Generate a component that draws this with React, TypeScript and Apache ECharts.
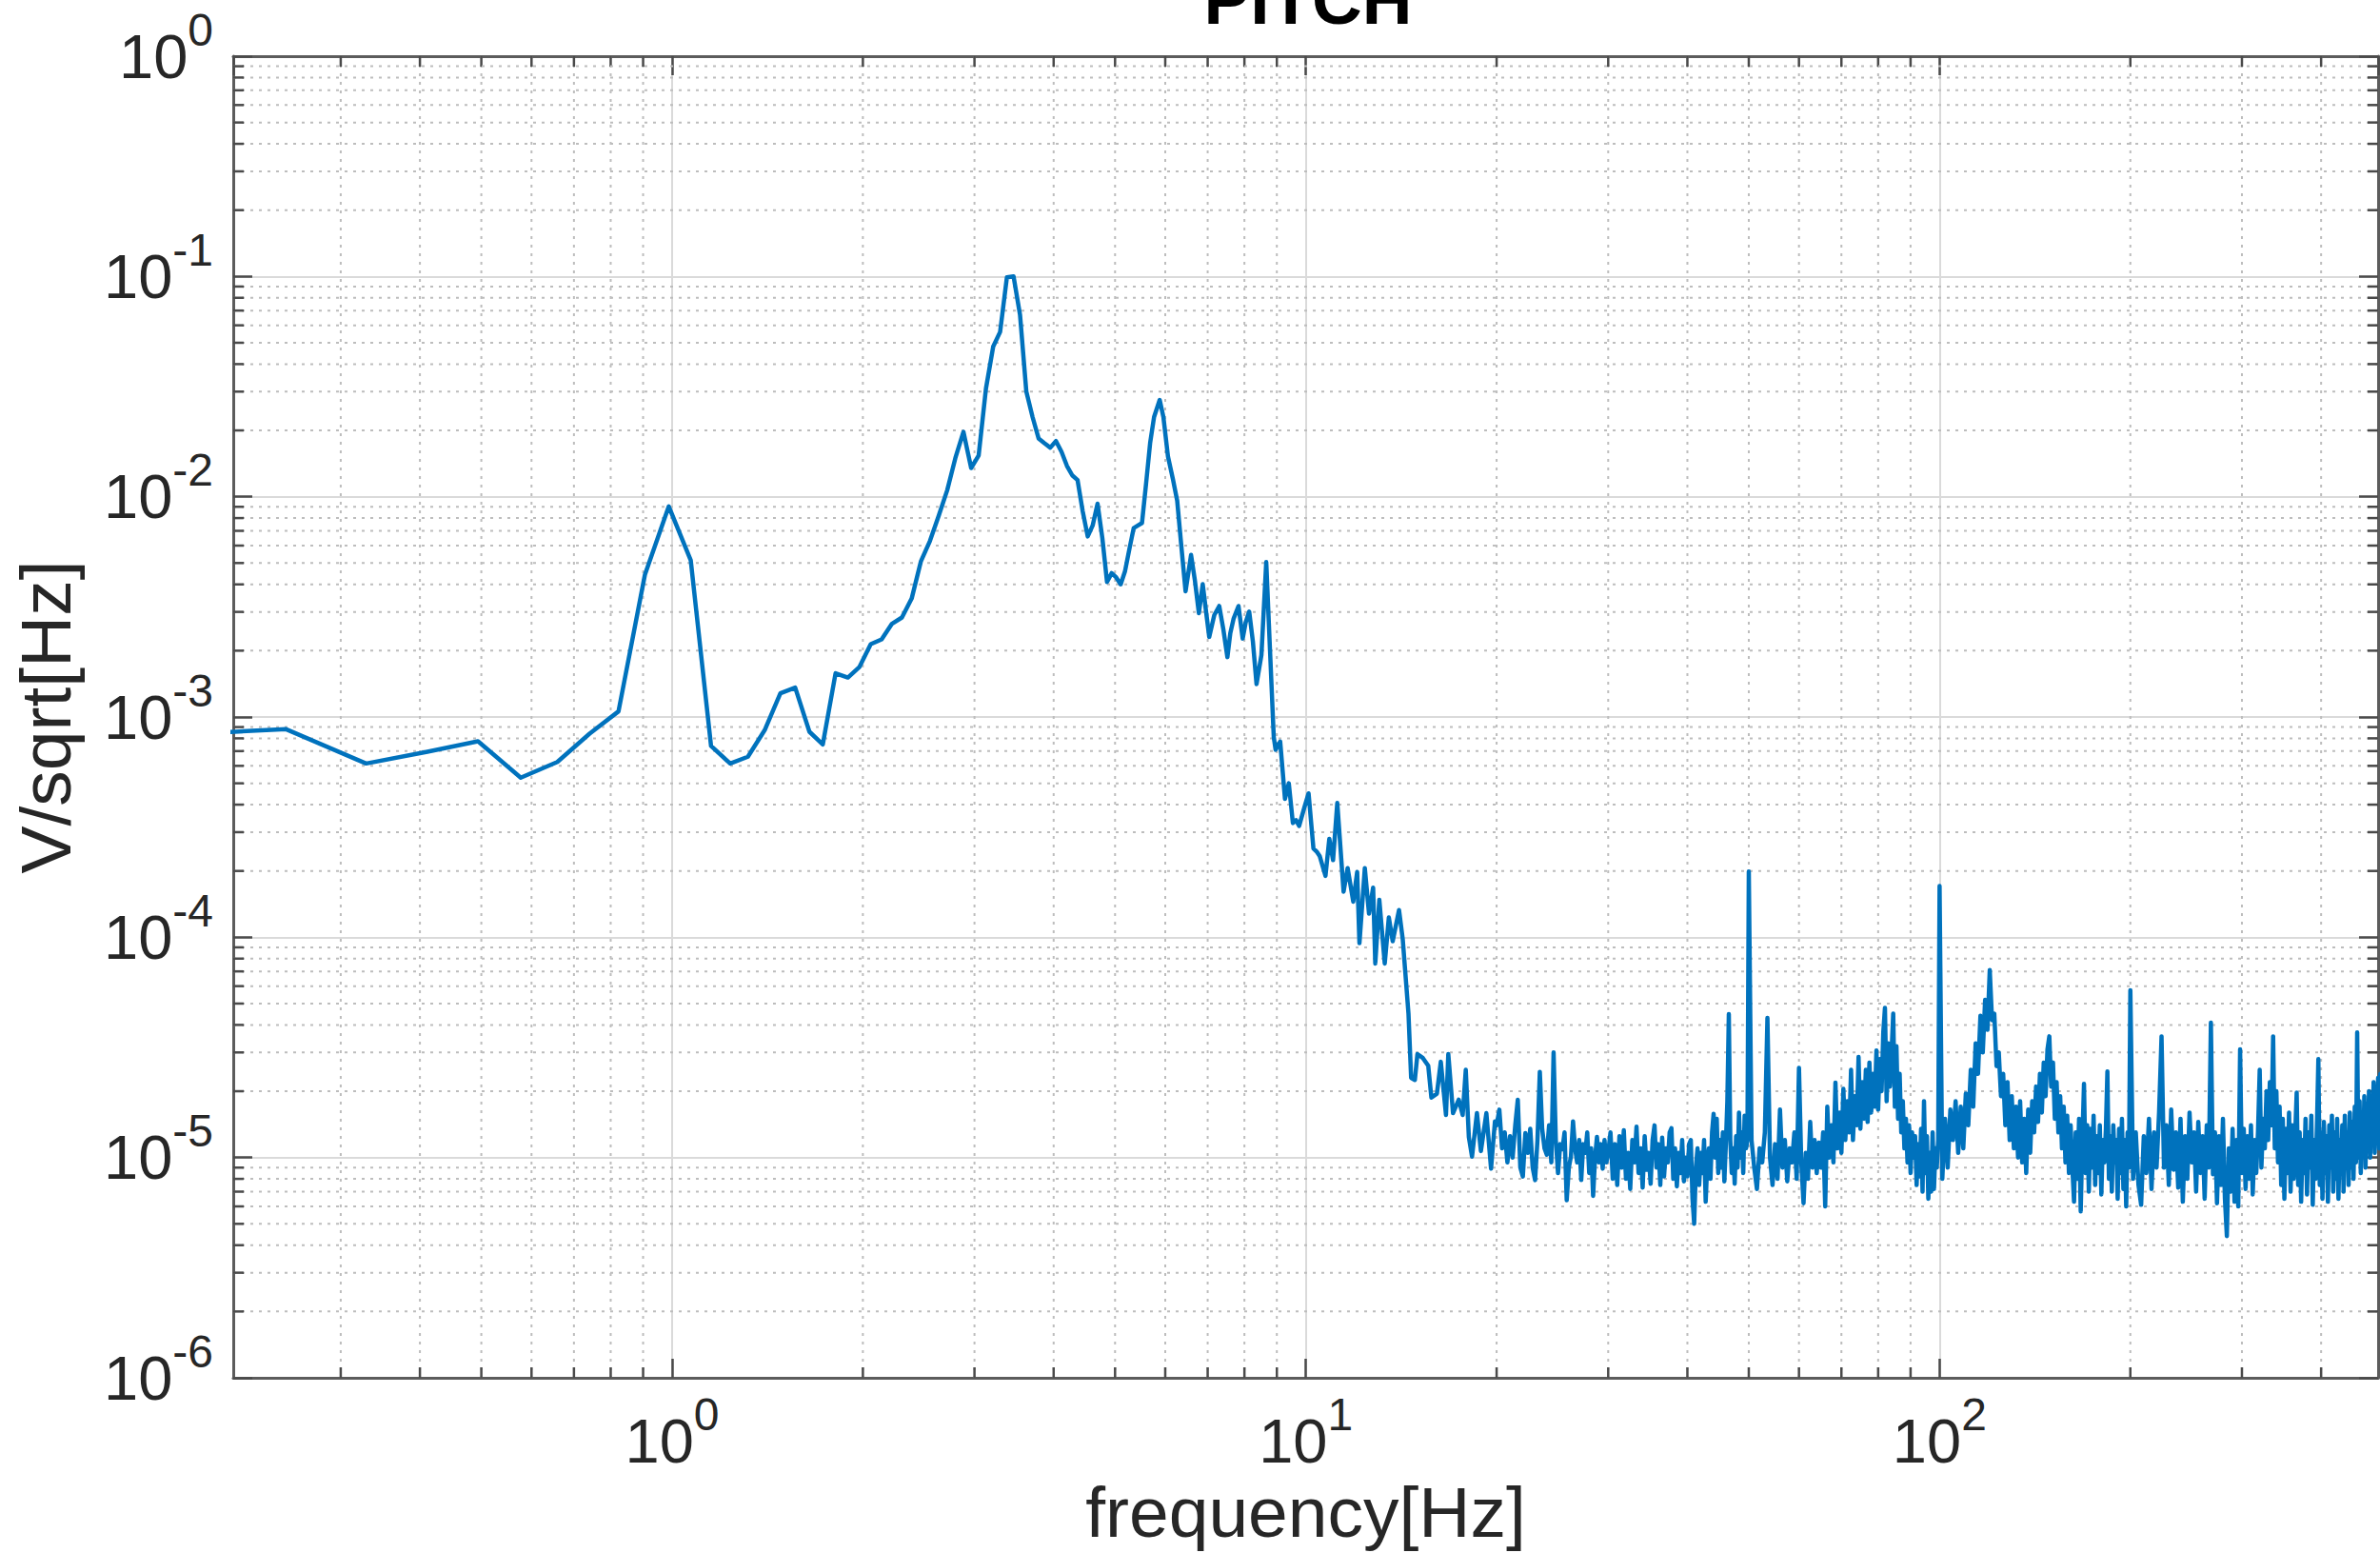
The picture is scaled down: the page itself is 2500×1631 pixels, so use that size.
import React, { useEffect, useRef } from "react";
import * as echarts from "echarts";

// ---------- texts & axis ranges ----------
const TITLE = "PITCH";
const X_NAME = "frequency[Hz]";
const Y_NAME = "V/sqrt[Hz]";
const X_MIN = 0.203;
const X_MAX = 492;
const Y_MIN = 1e-6;
const Y_MAX = 1;
const MINOR_MANTISSAS = [2, 3, 4, 5, 6, 7, 8, 9];
const X_DECADES = [0.1, 1, 10, 100];
const Y_DECADES = [1e-6, 1e-5, 1e-4, 1e-3, 1e-2, 1e-1];

// ---------- data: [frequency Hz, V/sqrt(Hz)] ----------
const psd0to3: [number, number][] = [
  [0.2, 8.55e-4], [0.246, 8.8e-4], [0.329, 6.15e-4], [0.411, 6.95e-4], [0.494, 7.76e-4],
  [0.577, 5.3e-4], [0.659, 6.25e-4], [0.741, 8.4e-4], [0.823, 1.06e-3], [0.906, 4.43e-3],
  [0.988, 9.04e-3], [1.07, 5.15e-3], [1.152, 7.39e-4], [1.235, 6.15e-4], [1.317, 6.6e-4],
  [1.4, 8.72e-4], [1.482, 1.28e-3], [1.564, 1.36e-3], [1.647, 8.57e-4], [1.729, 7.51e-4],
  [1.811, 1.58e-3], [1.894, 1.51e-3], [1.976, 1.69e-3], [2.058, 2.14e-3], [2.141, 2.25e-3],
  [2.223, 2.65e-3], [2.305, 2.83e-3], [2.388, 3.45e-3], [2.47, 5.1e-3], [2.552, 6.3e-3],
  [2.635, 8.2e-3], [2.717, 1.07e-2], [2.799, 1.5e-2], [2.882, 1.97e-2], [2.964, 1.35e-2],
];

const psd3to9: [number, number][] = [
  [3.046, 1.54e-2], [3.128, 3.1e-2], [3.211, 4.8e-2], [3.293, 5.6e-2], [3.375, 9.9e-2],
  [3.458, 1.0e-1], [3.54, 6.7e-2], [3.622, 3.0e-2], [3.705, 2.3e-2], [3.787, 1.84e-2],
  [3.869, 1.75e-2], [3.951, 1.67e-2], [4.034, 1.79e-2], [4.116, 1.6e-2], [4.198, 1.38e-2],
  [4.28, 1.25e-2], [4.363, 1.19e-2], [4.445, 8.6e-3], [4.527, 6.6e-3], [4.609, 7.4e-3],
  [4.692, 9.3e-3], [4.774, 6.5e-3], [4.856, 4.1e-3], [4.939, 4.5e-3], [5.021, 4.3e-3],
  [5.103, 4.0e-3], [5.185, 4.6e-3], [5.268, 5.8e-3], [5.35, 7.2e-3], [5.432, 7.4e-3],
  [5.514, 7.6e-3], [5.597, 1.15e-2], [5.679, 1.75e-2], [5.761, 2.3e-2], [5.88, 2.75e-2],
  [5.96, 2.3e-2], [6.06, 1.52e-2], [6.17, 1.2e-2], [6.266, 9.6e-3], [6.36, 6.0e-3],
  [6.46, 3.72e-3], [6.59, 5.44e-3], [6.68, 4.2e-3], [6.78, 2.96e-3], [6.875, 4.01e-3],
  [6.96, 3.0e-3], [7.04, 2.31e-3], [7.17, 2.9e-3], [7.3, 3.19e-3], [7.41, 2.5e-3],
  [7.52, 1.87e-3], [7.6, 2.4e-3], [7.69, 2.79e-3], [7.83, 3.19e-3], [7.95, 2.27e-3],
  [8.04, 2.7e-3], [8.14, 3.01e-3], [8.25, 2.2e-3], [8.36, 1.41e-3], [8.51, 1.91e-3],
  [8.66, 5.05e-3], [8.78, 2.0e-3], [8.9, 8.1e-4], [8.96, 7.1e-4],
];

const psd9to20: [number, number][] = [
  [9.11, 7.74e-4], [9.27, 4.25e-4], [9.4, 5.0e-4], [9.54, 3.3e-4], [9.65, 3.4e-4],
  [9.76, 3.2e-4], [9.95, 3.9e-4], [10.1, 4.5e-4], [10.28, 2.53e-4], [10.4, 2.45e-4],
  [10.52, 2.33e-4], [10.74, 1.9e-4], [10.89, 2.8e-4], [11.04, 2.24e-4], [11.21, 4.07e-4],
  [11.47, 1.61e-4], [11.64, 2.06e-4], [11.88, 1.45e-4], [12.05, 1.98e-4], [12.15, 9.4e-5],
  [12.39, 2.06e-4], [12.58, 1.28e-4], [12.77, 1.68e-4], [12.87, 7.6e-5], [13.06, 1.48e-4],
  [13.32, 7.6e-5], [13.52, 1.23e-4], [13.71, 9.6e-5], [14.03, 1.33e-4], [14.22, 9.8e-5],
  [14.52, 4.5e-5], [14.66, 2.3e-5], [14.86, 2.25e-5], [15.0, 2.95e-5], [15.3, 2.83e-5],
  [15.6, 2.61e-5], [15.78, 1.87e-5], [16.1, 1.95e-5], [16.33, 2.72e-5], [16.64, 1.56e-5],
  [16.78, 2.95e-5], [17.07, 1.59e-5], [17.43, 1.83e-5], [17.68, 1.56e-5], [17.88, 2.5e-5],
  [18.08, 1.24e-5], [18.29, 1.01e-5], [18.62, 1.59e-5], [18.89, 1.07e-5], [19.27, 1.59e-5],
  [19.6, 8.9e-6], [19.88, 1.46e-5],
];

// noise floor, values in µV/sqrt(Hz): [frequency Hz, µV/sqrt(Hz)]
const noise20to30uV: [number, number][] = [
  [20.0, 14], [20.2, 16.5], [20.4, 11], [20.6, 13], [20.8, 9.5], [21.0, 12.5], [21.2, 10], [21.4, 14],
  [21.6, 18.3], [21.8, 9], [22.0, 8.2], [22.2, 12.9], [22.4, 10.5], [22.6, 13.5], [22.8, 9], [23.0, 7.9],
  [23.2, 12], [23.4, 24.5], [23.6, 13.5], [23.8, 11], [24.0, 10.3], [24.2, 14], [24.4, 9.5], [24.6, 30],
  [24.8, 12], [25.0, 8.5], [25.2, 11.5], [25.4, 10.9], [25.6, 13], [25.8, 6.4], [26.0, 9], [26.2, 10.1],
  [26.4, 14.6], [26.6, 11], [26.8, 9.5], [27.0, 12], [27.2, 7.9], [27.4, 11.5], [27.6, 10.5], [27.8, 13],
  [28.0, 8.5], [28.2, 11], [28.4, 6.7], [28.6, 10], [28.8, 12.4], [29.0, 9.5], [29.2, 11.5], [29.4, 8.9],
  [29.6, 12], [29.8, 9.5], [30.0, 10.5],
];

const noise30to50uV: [number, number][] = [
  [30.25, 13], [30.5, 8], [30.75, 11.5], [31, 7.5], [31.25, 12.5], [31.5, 9], [31.75, 13.3], [32, 8],
  [32.25, 10.5], [32.5, 7.2], [32.75, 12], [33, 9.5], [33.25, 13.8], [33.5, 8.5], [33.75, 11], [34, 7.3],
  [34.25, 12.5], [34.5, 8.8], [34.75, 10.5], [35, 7.6], [35.25, 12], [35.5, 14], [35.75, 9], [36, 11.5],
  [36.25, 7.5], [36.5, 12.3], [36.75, 8.2], [37, 11], [37.25, 9.5], [37.5, 13], [37.75, 13.6], [38, 8],
  [38.25, 11], [38.5, 7.4], [38.75, 10.5], [39, 8.5], [39.25, 12], [39.5, 7.8], [39.75, 10], [40, 8.2],
  [40.25, 11.5], [40.5, 12], [40.75, 6.5], [41, 5], [41.25, 9], [41.5, 11], [41.75, 7.5], [42, 10.5],
  [42.25, 8.5], [42.5, 12], [42.75, 6.3], [43, 9.5], [43.25, 11], [43.5, 8], [43.75, 13], [44, 15.8],
  [44.25, 10], [44.5, 15], [44.75, 8.5], [45, 12], [45.25, 9], [45.5, 13], [45.75, 7.8], [46, 11.5],
  [46.25, 18], [46.5, 44.8], [46.75, 12], [47, 8.5], [47.25, 11], [47.5, 7.6], [47.75, 12.5], [48, 9],
  [48.25, 16], [48.5, 10], [48.75, 13], [49, 8.5], [49.25, 15.5], [49.5, 11], [49.75, 12], [50, 199],
];

const noise50to100uV: [number, number][] = [
  [50.5, 12], [51, 9], [51.5, 7.2], [52, 11], [52.5, 9.5], [53, 13], [53.5, 43], [54, 10],
  [54.5, 7.5], [55, 11.5], [55.5, 8], [56, 16.5], [56.5, 9], [57, 12], [57.5, 7.8], [58, 11],
  [58.5, 9.5], [59, 13], [59.5, 8], [60, 25.5], [60.5, 9.5], [61, 6.2], [61.5, 10.5], [62, 8],
  [62.5, 14.5], [63, 9], [63.5, 12], [64, 8.5], [64.5, 11.7], [65, 9], [65.5, 13], [66, 6],
  [66.5, 17], [67, 10], [67.5, 14], [68, 9.5], [68.5, 21.9], [69, 11], [69.5, 16], [70, 10.5],
  [70.5, 20.5], [71, 12], [71.5, 18], [72, 13], [72.5, 25], [73, 12], [73.5, 19], [74, 14],
  [74.5, 28.6], [75, 13.5], [75.5, 22], [76, 15], [76.5, 25], [77, 14.5], [77.5, 27], [78, 16],
  [78.5, 24], [79, 17], [79.5, 30.6], [80, 16.5], [80.5, 28], [81, 20], [81.5, 37], [82, 47.8],
  [82.5, 18], [83, 33], [83.5, 21], [84, 30], [84.5, 45], [85, 17], [85.5, 32], [86, 15],
  [86.5, 24], [87, 13], [87.5, 18], [88, 11], [88.5, 15], [89, 9.5], [89.5, 14], [90, 8.5],
  [90.5, 13], [91, 10], [91.5, 12.5], [92, 7.5], [92.5, 11.5], [93, 8.2], [93.5, 13.5], [94, 7],
  [94.5, 18], [95, 8.5], [95.5, 12.5], [96, 6.5], [96.5, 10.5], [97, 7], [97.5, 13], [98, 7.2],
  [98.5, 11], [99, 9], [99.5, 12], [100, 171],
];

const noise100to200uV: [number, number][] = [
  [101, 8], [102, 15], [103, 9], [104, 16.5], [105, 12], [106, 18], [107, 10.5], [108, 17],
  [109, 11], [110, 19.5], [111, 14], [112, 25], [113, 17], [114, 33], [115, 24], [116, 44],
  [117, 30], [118, 52], [119, 38], [120, 71], [121, 42], [122, 45], [123, 26], [124, 30],
  [125, 19], [126, 24], [127, 14], [128, 22], [129, 12], [130, 19], [131, 11], [132, 17],
  [133, 10], [134, 18], [135, 9.5], [136, 15], [137, 8.5], [138, 16.5], [139, 10.5], [140, 18],
  [141, 13], [142, 21], [143, 14.5], [144, 24], [145, 16], [146, 27], [147, 19], [148, 31],
  [149, 35.5], [150, 21], [151, 27], [152, 15], [153, 22], [154, 13], [155, 19], [156, 11],
  [157, 17], [158, 9.5], [159, 15.5], [160, 8.5], [161, 14], [162, 9], [163, 6.3], [164, 13],
  [165, 8], [166, 15], [167, 5.7], [168, 12], [169, 21.6], [170, 8.5], [171, 14], [172, 7],
  [173, 13.5], [174, 9], [175, 15.5], [176, 7.5], [177, 12.5], [178, 8.5], [179, 14], [180, 6.8],
  [181, 12], [182, 9.5], [183, 13.5], [184, 24.6], [185, 8], [186, 12.5], [187, 7], [188, 14],
  [189, 9.5], [190, 12], [191, 6.5], [192, 13.5], [193, 8.5], [194, 15], [195, 7.2], [196, 12],
  [197, 6.0], [198, 13], [199, 9], [200, 57.4],
];

const noise200to500uV: [number, number][] = [
  [202, 8], [204, 13], [206, 7.5], [208, 6.1], [210, 12.5], [212, 8.5], [214, 15], [216, 7.2],
  [218, 13], [220, 9], [222, 16], [224, 35.5], [226, 9], [228, 14], [230, 7.5], [232, 16.5],
  [234, 8.8], [236, 13], [238, 7.3], [240, 15], [242, 6.3], [244, 12.5], [246, 8], [248, 16],
  [250, 9.5], [252, 13], [254, 7], [256, 14.5], [258, 8.5], [260, 12.5], [262, 6.5], [264, 14],
  [266, 9], [268, 41], [270, 8.4], [272, 13], [274, 6.2], [276, 12.5], [278, 7.5], [280, 15],
  [282, 6.5], [284, 4.4], [286, 11], [288, 7], [290, 13.5], [292, 6.3], [294, 12], [296, 6],
  [298, 31], [300, 8.5], [302, 13.5], [304, 7.2], [306, 12.5], [308, 8], [310, 14], [312, 6.8],
  [314, 12], [316, 8.5], [318, 13], [320, 25], [322, 9], [324, 15], [326, 11], [328, 20],
  [330, 12], [332, 22], [334, 14], [336, 35.5], [338, 11], [340, 20], [342, 9.5], [344, 17],
  [346, 7.5], [348, 15], [350, 6.5], [352, 13.5], [354, 8.5], [356, 16], [358, 7], [360, 14],
  [362, 8], [364, 12.5], [366, 19.7], [368, 7.5], [370, 13], [372, 6.3], [374, 12], [376, 8.5],
  [378, 15], [380, 6.8], [382, 13], [384, 9], [386, 15.5], [388, 6.1], [390, 12], [392, 8],
  [394, 14], [396, 28], [398, 7.5], [400, 13], [402, 6.5], [404, 14.5], [406, 8.5], [408, 12.5],
  [410, 6.3], [412, 14], [414, 9], [416, 15.5], [418, 7], [420, 13], [422, 8], [424, 15],
  [426, 6.5], [428, 12], [430, 8.5], [432, 14], [434, 7], [436, 15.5], [438, 9], [440, 13],
  [442, 7.5], [444, 16], [446, 9], [448, 14.5], [450, 8], [452, 17], [454, 9.5], [456, 37],
  [458, 10], [460, 18], [462, 8.5], [464, 16], [466, 10.5], [468, 19], [470, 9], [472, 17.5],
  [474, 11], [476, 20], [478, 10], [480, 19], [482, 12], [484, 22], [486, 10.5], [488, 21],
  [490, 13], [492, 23], [494, 11], [496, 24], [498, 12.5], [500, 22],
];

// ---------- styles ----------
const FONT = '"Liberation Sans", Arial, Helvetica, sans-serif';
const TEXT = "#262626";
const LINE_COLOR = "#0072BD";
const AXIS_COLOR = "#5c5c5c";
const TICK_COLOR = "#4a4a4a";
const GRID_MAJOR = "#dadada";
const GRID_MINOR = "#bdbdbd";

const MICRO = 1e-6;
const fromMicro = (pts: [number, number][]) => pts.map(([f, u]) => [f, u * MICRO]);

const seriesData = [
  ...psd0to3,
  ...psd3to9,
  ...psd9to20,
  ...fromMicro(noise20to30uV),
  ...fromMicro(noise30to50uV),
  ...fromMicro(noise50to100uV),
  ...fromMicro(noise100to200uV),
  ...fromMicro(noise200to500uV),
];

const minorValues = (decades: number[], lo: number, hi: number) => {
  const out: number[] = [];
  decades.forEach((d) => MINOR_MANTISSAS.forEach((m) => {
    const v = m * d;
    if (v > lo * 1.0001 && v < hi * 0.9999) out.push(v);
  }));
  return out;
};
const xMinor = minorValues(X_DECADES, X_MIN, X_MAX);
const yMinor = minorValues(Y_DECADES, Y_MIN, Y_MAX);

const expLabel = (v: number) => {
  const e = Math.log10(v);
  const r = Math.round(e);
  if (Math.abs(e - r) > 1e-6) return "";
  return `{b|10}{s|${r}}`;
};

const labelRich = {
  b: { fontSize: 65, lineHeight: 104, fontFamily: FONT, color: TEXT },
  s: { fontSize: 48, lineHeight: 48, verticalAlign: "top", fontFamily: FONT, color: TEXT },
};

const MAJOR_TICK = 20;
const MINOR_TICK = 11;

const baseAxis = (extra: any) => ({
  type: "log",
  logBase: 10,
  axisLine: { show: true, onZero: false, lineStyle: { color: AXIS_COLOR, width: 3 } },
  axisTick: { show: true, inside: true, length: MAJOR_TICK, lineStyle: { color: TICK_COLOR, width: 2.5 } },
  ...extra,
});

const renderXMinor = (params: any, api: any) => {
  const cs = params.coordSys;
  const px = api.coord([api.value(0), 1e-3])[0];
  const top = cs.y;
  const bottom = cs.y + cs.height;
  return {
    type: "group",
    children: [
      { type: "line", shape: { x1: px, y1: top, x2: px, y2: bottom }, style: { stroke: GRID_MINOR, lineWidth: 2, lineDash: [3, 6] } },
      { type: "line", shape: { x1: px, y1: bottom, x2: px, y2: bottom - MINOR_TICK }, style: { stroke: TICK_COLOR, lineWidth: 2.5 } },
      { type: "line", shape: { x1: px, y1: top, x2: px, y2: top + MINOR_TICK }, style: { stroke: TICK_COLOR, lineWidth: 2.5 } },
    ],
  };
};

const renderYMinor = (params: any, api: any) => {
  const cs = params.coordSys;
  const py = api.coord([1, api.value(1)])[1];
  const left = cs.x;
  const right = cs.x + cs.width;
  return {
    type: "group",
    children: [
      { type: "line", shape: { x1: left, y1: py, x2: right, y2: py }, style: { stroke: GRID_MINOR, lineWidth: 2, lineDash: [3, 6] } },
      { type: "line", shape: { x1: left, y1: py, x2: left + MINOR_TICK, y2: py }, style: { stroke: TICK_COLOR, lineWidth: 2.5 } },
      { type: "line", shape: { x1: right, y1: py, x2: right - MINOR_TICK, y2: py }, style: { stroke: TICK_COLOR, lineWidth: 2.5 } },
    ],
  };
};

const option: any = {
  animation: false,
  backgroundColor: "#ffffff",
  grid: { left: 245, top: 59, right: 2, bottom: 184, containLabel: false, outerBoundsMode: "none" },
  graphic: [
    {
      type: "text",
      x: 1374,
      y: -1,
      style: {
        text: TITLE,
        font: `bold 73px ${FONT}`,
        fill: "#000000",
        align: "center",
        verticalAlign: "middle",
        textAlign: "center",
        textVerticalAlign: "middle",
      },
    },
  ],
  xAxis: [
    baseAxis({
      position: "bottom",
      min: X_MIN,
      max: X_MAX,
      splitNumber: 3,
      axisLabel: { formatter: expLabel, rich: labelRich, margin: 14, showMinLabel: false, showMaxLabel: false },
      splitLine: { show: true, lineStyle: { color: GRID_MAJOR, width: 2 } },
      name: X_NAME,
      nameLocation: "middle",
      nameGap: 99,
      nameTextStyle: { fontSize: 75, color: TEXT, fontFamily: FONT },
    }),
    baseAxis({
      position: "top",
      min: X_MIN,
      max: X_MAX,
      splitNumber: 3,
      axisLabel: { show: false },
      splitLine: { show: false },
    }),
  ],
  yAxis: [
    baseAxis({
      position: "left",
      min: Y_MIN,
      max: Y_MAX,
      splitNumber: 6,
      axisLabel: { formatter: expLabel, rich: labelRich, margin: 21 },
      splitLine: { show: true, lineStyle: { color: GRID_MAJOR, width: 2 } },
      name: Y_NAME,
      nameLocation: "middle",
      nameRotate: 90,
      nameGap: 160,
      nameTextStyle: { fontSize: 75, color: TEXT, fontFamily: FONT },
    }),
    baseAxis({
      position: "right",
      min: Y_MIN,
      max: Y_MAX,
      splitNumber: 6,
      axisLabel: { show: false },
      splitLine: { show: false },
    }),
  ],
  series: [
    {
      type: "custom",
      xAxisIndex: 0,
      yAxisIndex: 0,
      silent: true,
      z: 1,
      clip: false,
      data: xMinor.map((v) => [v, 1e-3]),
      renderItem: renderXMinor,
    },
    {
      type: "custom",
      xAxisIndex: 0,
      yAxisIndex: 0,
      silent: true,
      z: 1,
      clip: false,
      data: yMinor.map((v) => [1, v]),
      renderItem: renderYMinor,
    },
    {
      type: "line",
      xAxisIndex: 0,
      yAxisIndex: 0,
      data: seriesData,
      showSymbol: false,
      symbol: "none",
      z: 5,
      clip: true,
      lineStyle: { color: LINE_COLOR, width: 4.5, join: "round" },
    },
  ],
};

export default function App() {
  const ref = useRef<HTMLDivElement>(null);
  useEffect(() => {
    const chart = echarts.init(ref.current as HTMLDivElement, null, { renderer: "svg" });
    chart.setOption(option);
    return () => chart.dispose();
  }, []);
  return (
    <div
      ref={ref}
      style={{ position: "fixed", left: 0, top: 0, width: 2500, height: 1631, background: "#ffffff" }}
    />
  );
}
